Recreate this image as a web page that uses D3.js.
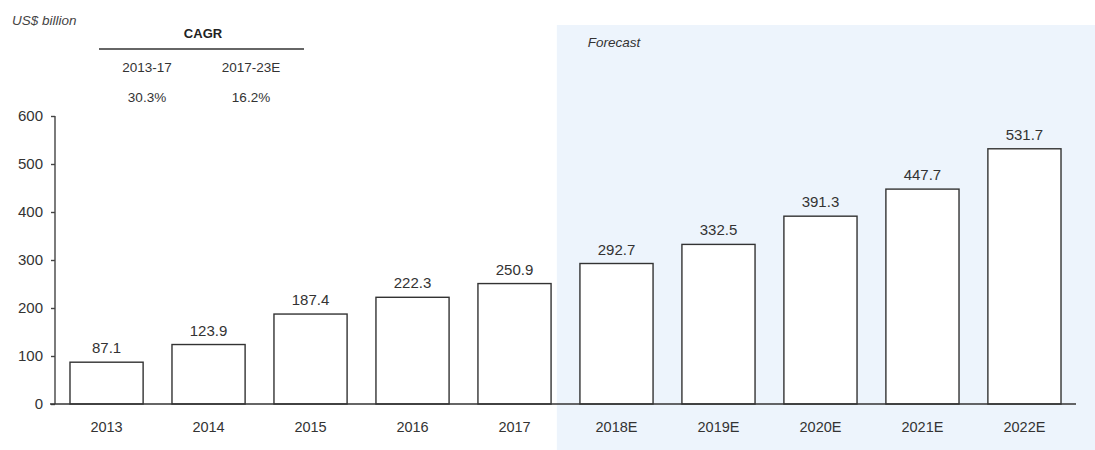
<!DOCTYPE html>
<html>
<head>
<meta charset="utf-8">
<script src="https://cdn.jsdelivr.net/npm/d3@7"></script>
<style>
  body { margin: 0; background: #fff; }
  svg { display: block; font-family: "Liberation Sans", Arial, sans-serif; }
</style>
</head>
<body>
<div id="chart"></div>
<script>
(function () {
'use strict';

// chart data
var years = ["2013", "2014", "2015", "2016", "2017", "2018E", "2019E", "2020E", "2021E", "2022E"];
var values = [87.1, 123.9, 187.4, 222.3, 250.9, 292.7, 332.5, 391.3, 447.7, 531.7];
var forecastYears = ["2018E", "2019E", "2020E", "2021E", "2022E"];
var yTicks = [0, 100, 200, 300, 400, 500, 600];
var cagrPeriods = ["2013-17", "2017-23E"];
var cagrValues = ["30.3%", "16.2%"];

var width = 1095, height = 450;
var svg = d3.select("#chart").append("svg")
	.attr("width", width)
	.attr("height", height);

var x = d3.scaleBand()
	.domain(years)
	.range([55, 1076])
	.paddingInner(0.283)
	.paddingOuter(0.147);

var y = d3.scaleLinear()
	.domain([0, 600])
	.range([404, 116]);

// forecast shaded area
var fStart = x(forecastYears[0]) - (x.step() - x.bandwidth()) * 0.8;
svg.append("rect")
	.attr("x", fStart)
	.attr("y", 25)
	.attr("width", width - fStart)
	.attr("height", 425)
	.attr("fill", "#edf4fc");

svg.append("text")
	.attr("x", fStart + 31)
	.attr("y", 47)
	.attr("font-size", 13.5)
	.attr("font-style", "italic")
	.attr("fill", "#333")
	.text("Forecast");

// unit label
svg.append("text")
	.attr("x", 12)
	.attr("y", 25)
	.attr("font-size", 13.5)
	.attr("font-style", "italic")
	.attr("fill", "#444")
	.text("US$ billion");

// CAGR table
svg.append("text")
	.attr("x", 203)
	.attr("y", 38)
	.attr("text-anchor", "middle")
	.attr("font-size", 13)
	.attr("font-weight", "bold")
	.attr("fill", "#222")
	.text("CAGR");

svg.append("line")
	.attr("x1", 99).attr("x2", 304)
	.attr("y1", 49).attr("y2", 49)
	.attr("stroke", "#333")
	.attr("stroke-width", 1.4);

var cagrX = d3.scalePoint().domain(cagrPeriods).range([147, 251]);
svg.selectAll(".cagr-period")
	.data(cagrPeriods)
	.enter().append("text")
		.attr("class", "cagr-period")
		.attr("x", function(d){ return cagrX(d); })
		.attr("y", 72)
		.attr("text-anchor", "middle")
		.attr("font-size", 13.5)
		.attr("fill", "#333")
		.text(function(d){ return d; });

svg.selectAll(".cagr-value")
	.data(cagrValues)
	.enter().append("text")
		.attr("class", "cagr-value")
		.attr("x", function(d, i){ return cagrX(cagrPeriods[i]); })
		.attr("y", 102)
		.attr("text-anchor", "middle")
		.attr("font-size", 13.5)
		.attr("fill", "#333")
		.text(function(d){ return d; });

// bars
svg.selectAll(".bar")
	.data(values)
	.enter().append("rect")
		.attr("class", "bar")
		.attr("x", function(d, i){ return x(years[i]); })
		.attr("y", function(d){ return y(d); })
		.attr("width", x.bandwidth())
		.attr("height", function(d){ return y(0) - y(d); })
		.attr("fill", "#fff")
		.attr("stroke", "#333")
		.attr("stroke-width", 1.4);

svg.selectAll(".bar-label")
	.data(values)
	.enter().append("text")
		.attr("class", "bar-label")
		.attr("x", function(d, i){ return x(years[i]) + x.bandwidth() / 2; })
		.attr("y", function(d){ return y(d) - 9; })
		.attr("text-anchor", "middle")
		.attr("font-size", 15)
		.attr("fill", "#333")
		.text(function(d){ return d.toFixed(1); });

// y axis
var yAxis = svg.append("g")
	.attr("transform", "translate(55,0)")
	.call(d3.axisLeft(y).tickValues(yTicks).tickSize(4).tickPadding(8));
yAxis.selectAll("text").attr("font-size", 15).attr("fill", "#333").attr("font-family", null);
yAxis.selectAll("line, path").attr("stroke", "#444").attr("stroke-width", 1.4);
yAxis.select(".domain").attr("d", "M0," + y(600) + "V" + y(0));

// x axis
var xAxis = svg.append("g")
	.attr("transform", "translate(0," + y(0) + ")")
	.call(d3.axisBottom(x).tickSize(0).tickPadding(18));
xAxis.selectAll("text").attr("font-size", 14.5).attr("fill", "#333").attr("font-family", null);
xAxis.select(".domain").attr("d", "M50,0H1076").attr("stroke", "#333").attr("stroke-width", 1.4);

}());
</script>
</body>
</html>
